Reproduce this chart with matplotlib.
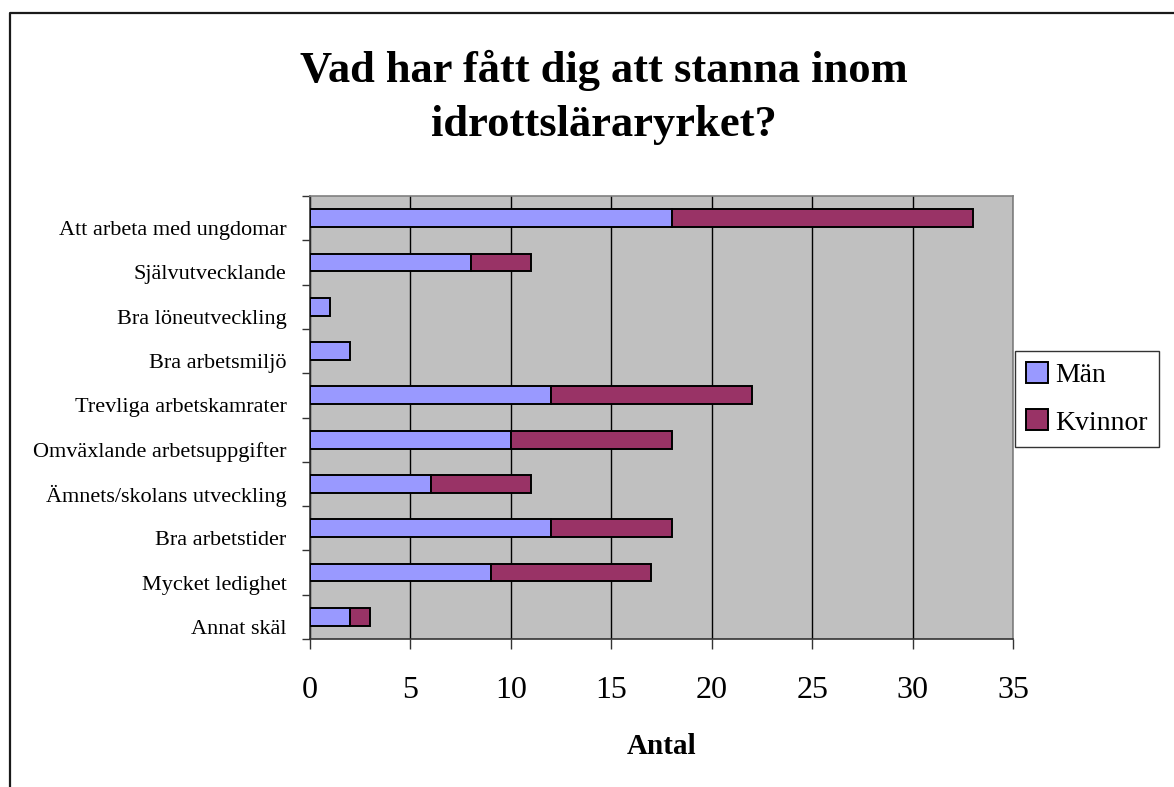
import matplotlib.pyplot as plt
from matplotlib.lines import Line2D
from matplotlib.transforms import ScaledTranslation
import numpy as np

plt.rcParams["font.family"] = ["Liberation Serif", "DejaVu Serif"]

CATEGORIES = [
    "Att arbeta med ungdomar",
    "Självutvecklande",
    "Bra löneutveckling",
    "Bra arbetsmiljö",
    "Trevliga arbetskamrater",
    "Omväxlande arbetsuppgifter",
    "Ämnets/skolans utveckling",
    "Bra arbetstider",
    "Mycket ledighet",
    "Annat skäl",
]
MEN = [18, 8, 1, 2, 12, 10, 6, 12, 9, 2]
WOMEN = [15, 3, 0, 0, 10, 8, 5, 6, 8, 1]
X_TICKS = [0, 5, 10, 15, 20, 25, 30, 35]
TITLE_LINES = ["Vad har fått dig att stanna inom", "idrottsläraryrket?"]

W, H = 1174, 787
fig = plt.figure(figsize=(W / 100, H / 100), dpi=100)
fig.patch.set_facecolor("white")

# outer chart border (left and top edges visible in the source)
fig.add_artist(Line2D([10 / W, 10 / W, 1.0], [0.0, 1 - 13 / H, 1 - 13 / H],
                      transform=fig.transFigure, color="#1a1a1a", lw=1.6))

ax = fig.add_axes([310 / W, 1 - 639 / H, (1013 - 310) / W, (639 - 196) / H])
ax.set_facecolor("#c0c0c0")

y = np.arange(len(CATEGORIES))
men = np.array(MEN)
women = np.array(WOMEN)
ax.barh(y, men, height=0.4, color="#9999ff", edgecolor="black", lw=1.4,
        label="Män", zorder=3)
ax.barh(y[women > 0], women[women > 0], left=men[women > 0], height=0.4,
        color="#993366", edgecolor="black", lw=1.4, label="Kvinnor", zorder=3)

ax.set_xlim(0, 35)
ax.set_ylim(len(CATEGORIES) - 0.5, -0.5)
ax.set_xticks(X_TICKS)
ax.set_xticklabels([str(t) for t in X_TICKS], fontsize=23)
ax.tick_params(axis="x", length=7, width=1, pad=20, color="#333333")
ax.xaxis.grid(True, color="black", lw=1, zorder=1)
ax.set_axisbelow(True)

ax.set_yticks(y)
ax.set_yticklabels(CATEGORIES, fontsize=16)
ax.set_yticks(np.arange(len(CATEGORIES) + 1) - 0.5, minor=True)
ax.tick_params(axis="y", which="major", length=0, pad=17)
ax.tick_params(axis="y", which="minor", length=6, width=1, color="#333333")
shift = ScaledTranslation(0, -0.10, fig.dpi_scale_trans)
for lab in ax.get_yticklabels():
    lab.set_transform(lab.get_transform() + shift)

for s in ("left", "bottom"):
    ax.spines[s].set_color("#333333")
    ax.spines[s].set_linewidth(1.2)
for s in ("top", "right"):
    ax.spines[s].set_color("#808080")
    ax.spines[s].set_linewidth(1.2)

ax.set_xlabel("Antal", fontsize=21, fontweight="bold", labelpad=20)

for line, base in zip(TITLE_LINES, (82, 136)):
    fig.text(604 / W, 1 - base / H, line, ha="center", va="baseline",
             fontsize=32, fontweight="bold")

leg = ax.legend(loc="upper left", bbox_to_anchor=(1015 / W, 1 - 351 / H),
                bbox_transform=fig.transFigure, fontsize=20, frameon=True,
                fancybox=False, edgecolor="black", borderaxespad=0,
                handlelength=0.8, handleheight=0.8, handletextpad=0.25,
                borderpad=0.4, labelspacing=0.75)
leg.get_frame().set_linewidth(1.0)

fig.savefig("out.png", dpi=100, facecolor="white")
